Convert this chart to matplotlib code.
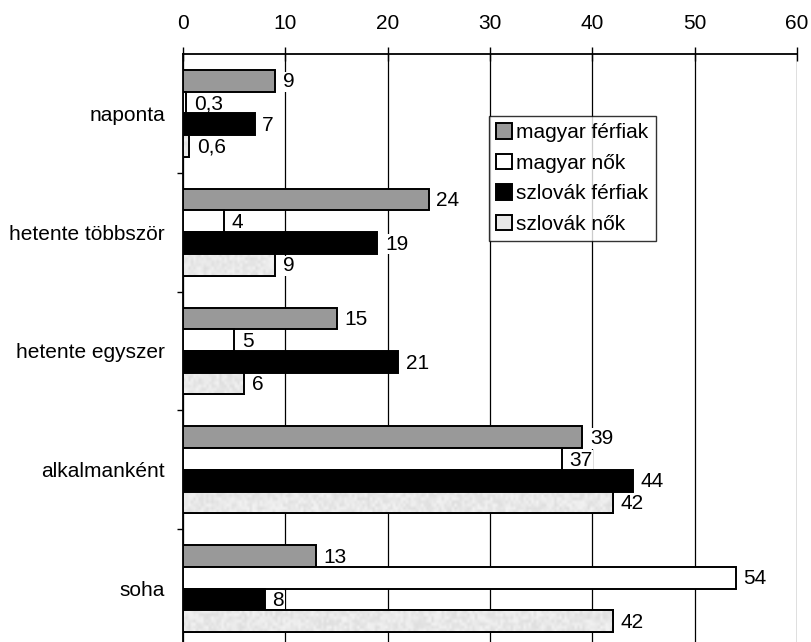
import numpy as np
import matplotlib
matplotlib.use('Agg')
import matplotlib.pyplot as plt
from matplotlib.ticker import FixedLocator

plt.rcParams['font.family'] = ['Liberation Sans', 'DejaVu Sans']

# 频率类别与各组百分比
categories = ['naponta', 'hetente többször', 'hetente egyszer', 'alkalmanként', 'soha']
series_names = ['magyar férfiak', 'magyar nők', 'szlovák férfiak', 'szlovák nők']
magyar_ferfiak = [9, 24, 15, 39, 13]
magyar_nok = [0.3, 4, 5, 37, 54]
szlovak_ferfiak = [7, 19, 21, 44, 8]
szlovak_nok = [0.6, 9, 6, 42, 42]
x_ticks = [0, 10, 20, 30, 40, 50, 60]

colors = ['#999999', 'white', 'black', '#e8e8e8']
bar_h = 0.183
fs = 15

fig = plt.figure(figsize=(8.11, 6.42), dpi=100)
ax = fig.add_axes([183 / 811, -6 / 642, 614 / 811, 594 / 642])

all_series = [magyar_ferfiak, magyar_nok, szlovak_ferfiak, szlovak_nok]
y = np.arange(len(categories))
rng = np.random.default_rng(3)

for i, (vals, name, col) in enumerate(zip(all_series, series_names, colors)):
    pos = y + (i - 1.5) * bar_h
    bars = ax.barh(pos, vals, height=bar_h, color=col, edgecolor='black',
                   linewidth=1.4, label=name, zorder=3)
    if name == 'szlovák nők':
        # szemcsés kitöltés a szlovák nők oszlopaihoz
        for b in bars:
            noise = 0.87 + 0.08 * rng.random((7, max(2, int(b.get_width() * 4))))
            im = ax.imshow(noise, cmap='gray', vmin=0, vmax=1, aspect='auto',
                           extent=(b.get_x(), b.get_x() + b.get_width(),
                                   b.get_y() + b.get_height(), b.get_y()),
                           interpolation='bilinear', zorder=3.5)
            im.set_clip_path(b)
            ax.add_patch(plt.Rectangle((b.get_x(), b.get_y()), b.get_width(),
                                       b.get_height(), fill=False,
                                       edgecolor='black', linewidth=1.4, zorder=4))
    # értékcímkék: fehér háttér a rácsvonalak fölött, de az oszlopok alatt
    for p, v in zip(pos, vals):
        txt = str(v).replace('.', ',')
        ax.text(v + 0.75, p + 0.01, txt, va='center', ha='left', fontsize=fs,
                zorder=2.5, bbox=dict(facecolor='white', edgecolor='none', pad=0.5))

ax.set_xlim(0, 60)
ax.set_ylim(len(categories) - 0.5, -0.5)
ax.xaxis.tick_top()
ax.set_xticks(x_ticks)
ax.tick_params(axis='x', direction='inout', length=10, width=1, labelsize=fs, pad=10)
ax.grid(axis='x', color='black', linewidth=0.9, zorder=1)

ax.set_yticks(y)
ax.set_yticklabels(categories, fontsize=fs)
ax.yaxis.set_minor_locator(FixedLocator(np.arange(0.5, len(categories) - 0.5, 1)))
ax.tick_params(axis='y', which='major', length=0, pad=13)
ax.tick_params(axis='y', which='minor', length=4.5, width=1, direction='out')

for s in ['right', 'bottom']:
    ax.spines[s].set_visible(False)
ax.spines['top'].set_linewidth(1.3)
ax.spines['left'].set_linewidth(1.3)

leg = ax.legend(loc='upper left', bbox_to_anchor=(306 / 614, 1 - 62 / 594),
                fontsize=fs, frameon=True, fancybox=False, borderpad=0.35,
                handlelength=0.75, handleheight=0.75, handletextpad=0.2,
                labelspacing=0.55, borderaxespad=0)
leg.get_frame().set_edgecolor('black')
leg.get_frame().set_linewidth(1.0)
leg.set_zorder(6)

fig.savefig('out.png', dpi=100)
plt.close(fig)
